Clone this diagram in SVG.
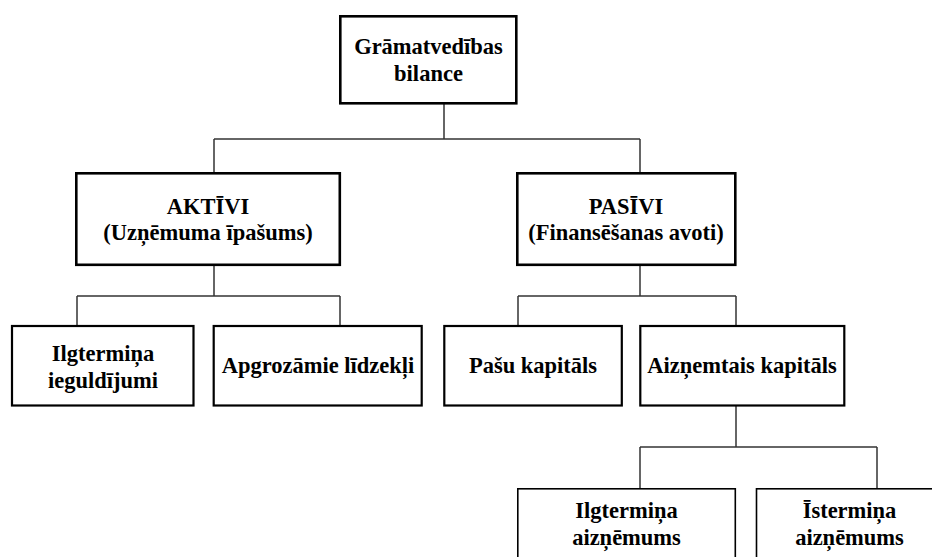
<svg xmlns="http://www.w3.org/2000/svg" width="932" height="557" viewBox="0 0 932 557">
<style>
.box{fill:#fff;stroke:#000}
.b1{stroke-width:2.6}
.b2{stroke-width:2.2}
.b3{stroke-width:1.6}
text{font-family:'Liberation Serif','Times New Roman','DejaVu Serif',serif;font-weight:bold;font-size:22.5px;fill:#000;text-anchor:middle}
#connectors line{stroke:#333;stroke-width:1.5}
</style>
<rect width="932" height="557" fill="#fff"/>
<g id="connectors">
<line x1="444" y1="104" x2="444" y2="139"/>
<line x1="214" y1="139" x2="640" y2="139"/>
<line x1="214" y1="139" x2="214" y2="172"/>
<line x1="640" y1="139" x2="640" y2="172"/>
<line x1="214" y1="266" x2="214" y2="296"/>
<line x1="77" y1="296" x2="340" y2="296"/>
<line x1="77" y1="296" x2="77" y2="325"/>
<line x1="340" y1="296" x2="340" y2="325"/>
<line x1="640" y1="266" x2="640" y2="296"/>
<line x1="518" y1="296" x2="736" y2="296"/>
<line x1="518" y1="296" x2="518" y2="325"/>
<line x1="736" y1="296" x2="736" y2="325"/>
<line x1="736" y1="406" x2="736" y2="447"/>
<line x1="640" y1="447" x2="877" y2="447"/>
<line x1="640" y1="447" x2="640" y2="488"/>
<line x1="877" y1="447" x2="877" y2="488"/>
</g>
<g id="bilance">
<rect class="box b1" x="340.3" y="16.3" width="176" height="87"/>
<text x="428.5" y="54">Grāmatvedības</text>
<text x="428.5" y="81">bilance</text>
</g>
<g id="aktivi">
<rect class="box b1" x="76.3" y="173.3" width="263.5" height="91.5"/>
<text x="208" y="214">AKTĪVI</text>
<text x="208" y="240">(Uzņēmuma īpašums)</text>
</g>
<g id="pasivi">
<rect class="box b1" x="517.3" y="173.3" width="218" height="91.5"/>
<text x="626" y="214">PASĪVI</text>
<text x="626" y="240">(Finansēšanas avoti)</text>
</g>
<g id="ilgtermina-ieguldijumi">
<rect class="box b2" x="12" y="326" width="181.5" height="79.5"/>
<text x="103" y="361">Ilgtermiņa</text>
<text x="103" y="388">ieguldījumi</text>
</g>
<g id="apgrozamie">
<rect class="box b2" x="213.7" y="326" width="208" height="79.5"/>
<text x="318" y="373">Apgrozāmie līdzekļi</text>
</g>
<g id="pasu-kapitals">
<rect class="box b2" x="444.3" y="326" width="177.5" height="79.5"/>
<text x="533" y="373">Pašu kapitāls</text>
</g>
<g id="aiznemtais-kapitals">
<rect class="box b2" x="640.3" y="326" width="204" height="79.5"/>
<text x="742" y="373">Aizņemtais kapitāls</text>
</g>
<g id="ilgtermina-aiznemums">
<rect class="box b3" x="517.8" y="488.8" width="217.5" height="80"/>
<text x="626.5" y="518">Ilgtermiņa</text>
<text x="626.5" y="545">aizņēmums</text>
</g>
<g id="istermina-aiznemums">
<rect class="box b3" x="756.5" y="488.8" width="186" height="80"/>
<text x="849.5" y="518">Īstermiņa</text>
<text x="849.5" y="545">aizņēmums</text>
</g>
</svg>
